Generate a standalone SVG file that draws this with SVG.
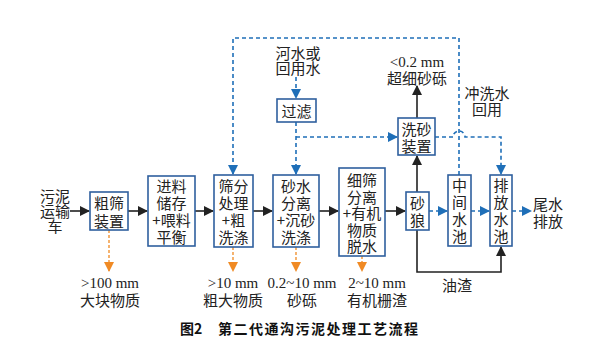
<svg xmlns="http://www.w3.org/2000/svg" width="594" height="354" viewBox="0 0 594 354">
<style>
.bx{fill:#fff;stroke:#2f5f9e;stroke-width:1.6}
.t{font-family:"Noto Sans CJK SC","Noto Serif CJK SC",sans-serif;font-size:15px;fill:#222;text-anchor:middle;dominant-baseline:central}
.v{font-family:"Noto Sans CJK SC",sans-serif;font-size:15px;fill:#222;text-anchor:middle;writing-mode:vertical-rl;letter-spacing:2px}
.m{font-family:"Liberation Serif","Noto Sans CJK SC",serif;font-size:15px;fill:#222;text-anchor:middle;dominant-baseline:central}
.k{stroke:#222;stroke-width:1.6;fill:none}
.b{stroke:#1f6fb8;stroke-width:1.6;fill:none;stroke-dasharray:4 3}
.o{stroke:#f08a24;stroke-width:1.3;fill:none;stroke-dasharray:3 2}
.cap{font-family:"Noto Sans CJK SC",sans-serif;font-size:14px;font-weight:bold;fill:#111;dominant-baseline:central}
</style>
<defs>
<marker id="ak" markerWidth="10" markerHeight="10" refX="9" refY="5" orient="auto" markerUnits="userSpaceOnUse"><path d="M0,0 L10,5 L0,10 Z" fill="#222"/></marker>
<marker id="ab" markerWidth="10" markerHeight="10" refX="9" refY="5" orient="auto" markerUnits="userSpaceOnUse"><path d="M0,0 L10,5 L0,10 Z" fill="#1f6fb8"/></marker>
<marker id="ao" markerWidth="10" markerHeight="10" refX="9" refY="5" orient="auto" markerUnits="userSpaceOnUse"><path d="M0,0 L10,5 L0,10 Z" fill="#f08a24"/></marker>
</defs>
<rect width="594" height="354" fill="#fff"/>

<g id="connectors">
<line class="k" x1="70" y1="211" x2="89" y2="211" marker-end="url(#ak)"/>
<line class="k" x1="128" y1="211" x2="147" y2="211" marker-end="url(#ak)"/>
<line class="k" x1="195" y1="211" x2="213" y2="211" marker-end="url(#ak)"/>
<line class="k" x1="253" y1="211" x2="272" y2="211" marker-end="url(#ak)"/>
<line class="k" x1="319" y1="211" x2="338" y2="211" marker-end="url(#ak)"/>
<line class="k" x1="385" y1="211" x2="405" y2="211" marker-end="url(#ak)"/>
<line class="b" x1="429" y1="211" x2="447" y2="211" marker-end="url(#ab)"/>
<line class="b" x1="471" y1="211" x2="489" y2="211" marker-end="url(#ab)"/>
<line class="b" x1="512" y1="211" x2="531" y2="211" marker-end="url(#ab)"/>
<path class="b" d="M459,175 L459,38 L233,38 L233,174" marker-end="url(#ab)"/>
<line class="b" x1="296" y1="77" x2="296" y2="98" marker-end="url(#ab)"/>
<line class="b" x1="296" y1="122" x2="296" y2="174" marker-end="url(#ab)"/>
<line class="b" x1="296" y1="137" x2="397" y2="137" marker-end="url(#ab)"/>
<path class="b" d="M435,137 L453,137 A6,6 0 0 1 465,137 L501,137 L501,174" marker-end="url(#ab)"/>
<line class="k" x1="417" y1="118" x2="417" y2="86" marker-end="url(#ak)"/>
<line class="k" x1="417" y1="192" x2="417" y2="156" marker-end="url(#ak)"/>
<path class="k" d="M417,230 L417,272 L501,272 L501,247" marker-end="url(#ak)"/>
<line class="o" x1="109" y1="230" x2="109" y2="271" marker-end="url(#ao)"/>
<line class="o" x1="233" y1="247" x2="233" y2="271" marker-end="url(#ao)"/>
<line class="o" x1="296" y1="247" x2="296" y2="271" marker-end="url(#ao)"/>
<line class="o" x1="362" y1="256" x2="362" y2="271" marker-end="url(#ao)"/>
</g>

<g id="src">
<text class="t" y="195"><tspan x="55">污泥</tspan><tspan x="55" dy="15">运输</tspan><tspan x="55" dy="15">车</tspan></text>
</g>
<g id="n1">
<rect class="bx" x="90" y="192" width="38" height="38"/>
<text class="t" y="202"><tspan x="109">粗筛</tspan><tspan x="109" dy="18">装置</tspan></text>
</g>
<g id="n2">
<rect class="bx" x="148" y="176" width="47" height="70"/>
<text class="t" y="185"><tspan x="171.5">进料</tspan><tspan x="171.5" dy="17">储存</tspan><tspan x="171.5" dy="17">+喂料</tspan><tspan x="171.5" dy="17">平衡</tspan></text>
</g>
<g id="n3">
<rect class="bx" x="214" y="175" width="39" height="72"/>
<text class="t" y="185"><tspan x="233.5">筛分</tspan><tspan x="233.5" dy="17">处理</tspan><tspan x="233.5" dy="17">+粗</tspan><tspan x="233.5" dy="17">洗涤</tspan></text>
</g>
<g id="n4">
<rect class="bx" x="273" y="175" width="46" height="72"/>
<text class="t" y="185"><tspan x="296">砂水</tspan><tspan x="296" dy="17">分离</tspan><tspan x="296" dy="17">+沉砂</tspan><tspan x="296" dy="17">洗涤</tspan></text>
</g>
<g id="n5">
<rect class="bx" x="339" y="168" width="46" height="88"/>
<text class="t" y="179"><tspan x="362">细筛</tspan><tspan x="362" dy="16.5">分离</tspan><tspan x="362" dy="16.5">+有机</tspan><tspan x="362" dy="16.5">物质</tspan><tspan x="362" dy="16.5">脱水</tspan></text>
</g>
<g id="n6">
<rect class="bx" x="406" y="192" width="23" height="38"/>
<text class="v" x="417.5" y="212.5">砂狼</text>
</g>
<g id="n7">
<rect class="bx" x="448" y="175" width="23" height="71"/>
<text class="v" x="459.5" y="211.5">中间水池</text>
</g>
<g id="n8">
<rect class="bx" x="490" y="175" width="22" height="71"/>
<text class="v" x="501" y="211.5">排放水池</text>
</g>
<g id="out">
<text class="t" y="203"><tspan x="548">尾水</tspan><tspan x="548" dy="17">排放</tspan></text>
</g>
<g id="n9">
<rect class="bx" x="398" y="118" width="37" height="37"/>
<text class="t" y="128"><tspan x="416.5">洗砂</tspan><tspan x="416.5" dy="17">装置</tspan></text>
</g>
<g id="n10">
<rect class="bx" x="277" y="99" width="39" height="23"/>
<text class="t" x="296.5" y="110.5">过滤</text>
</g>
<g id="labels">
<text class="t" y="52"><tspan x="298">河水或</tspan><tspan x="298" dy="15">回用水</tspan></text>
<text class="m" x="417" y="62">&lt;0.2 mm</text>
<text class="t" x="417" y="77">超细砂砾</text>
<text class="t" y="92"><tspan x="487">冲洗水</tspan><tspan x="487" dy="16">回用</tspan></text>
<text class="t" x="457" y="284">油渣</text>
<text class="m" x="110" y="283">&gt;100 mm</text>
<text class="t" x="110" y="299">大块物质</text>
<text class="m" x="233" y="283">&gt;10 mm</text>
<text class="t" x="233" y="299">粗大物质</text>
<text class="m" x="302" y="283">0.2~10 mm</text>
<text class="t" x="302" y="299">砂砾</text>
<text class="m" x="377" y="283">2~10 mm</text>
<text class="t" x="377" y="299">有机栅渣</text>
</g>
<g id="caption">
<text class="cap" x="180" y="328">图2</text>
<text class="cap" x="218" y="328" textLength="200" lengthAdjust="spacing">第二代通沟污泥处理工艺流程</text>
</g>
</svg>
